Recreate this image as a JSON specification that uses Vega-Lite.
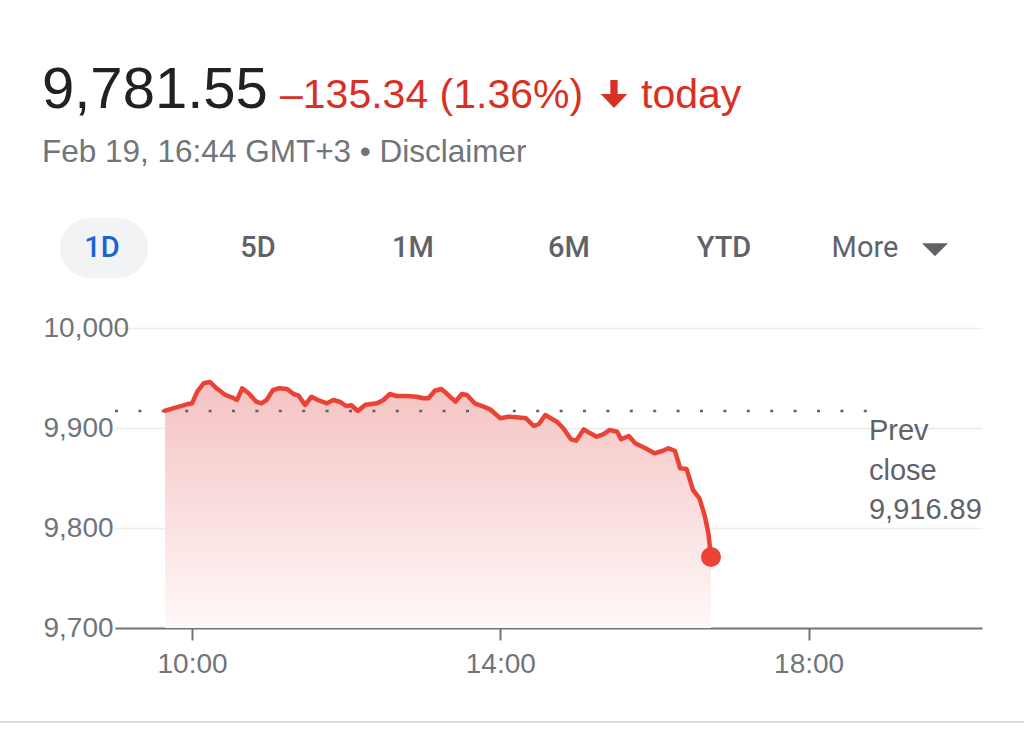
{
  "$schema": "https://vega.github.io/schema/vega-lite/v6.json",
  "width": 867,
  "height": 300,
  "autosize": {"type": "none"},
  "padding": {"left": 115, "top": 328, "right": 42, "bottom": 118},
  "background": "#ffffff",
  "config": {"view": {"stroke": null}, "font": "Liberation Sans"},
  "datasets": {
    "price": [
      {"t": "2024-02-19T09:39:00", "v": 9917.3},
      {"t": "2024-02-19T09:56:00", "v": 9923.7},
      {"t": "2024-02-19T10:00:00", "v": 9924.7},
      {"t": "2024-02-19T10:04:00", "v": 9936.3},
      {"t": "2024-02-19T10:09:00", "v": 9944.7},
      {"t": "2024-02-19T10:14:00", "v": 9946.0},
      {"t": "2024-02-19T10:19:00", "v": 9939.7},
      {"t": "2024-02-19T10:26:00", "v": 9933.0},
      {"t": "2024-02-19T10:31:00", "v": 9930.7},
      {"t": "2024-02-19T10:35:00", "v": 9928.0},
      {"t": "2024-02-19T10:39:00", "v": 9939.7},
      {"t": "2024-02-19T10:44:00", "v": 9934.7},
      {"t": "2024-02-19T10:50:00", "v": 9926.3},
      {"t": "2024-02-19T10:54:00", "v": 9924.7},
      {"t": "2024-02-19T10:58:00", "v": 9928.0},
      {"t": "2024-02-19T11:03:00", "v": 9938.0},
      {"t": "2024-02-19T11:08:00", "v": 9939.7},
      {"t": "2024-02-19T11:14:00", "v": 9939.0},
      {"t": "2024-02-19T11:19:00", "v": 9934.0},
      {"t": "2024-02-19T11:23:00", "v": 9932.3},
      {"t": "2024-02-19T11:28:00", "v": 9923.0},
      {"t": "2024-02-19T11:33:00", "v": 9931.3},
      {"t": "2024-02-19T11:38:00", "v": 9928.0},
      {"t": "2024-02-19T11:45:00", "v": 9924.7},
      {"t": "2024-02-19T11:50:00", "v": 9928.0},
      {"t": "2024-02-19T11:55:00", "v": 9926.3},
      {"t": "2024-02-19T12:00:00", "v": 9922.0},
      {"t": "2024-02-19T12:04:00", "v": 9922.7},
      {"t": "2024-02-19T12:09:00", "v": 9917.0},
      {"t": "2024-02-19T12:15:00", "v": 9923.3},
      {"t": "2024-02-19T12:24:00", "v": 9924.7},
      {"t": "2024-02-19T12:29:00", "v": 9928.0},
      {"t": "2024-02-19T12:34:00", "v": 9934.0},
      {"t": "2024-02-19T12:39:00", "v": 9932.0},
      {"t": "2024-02-19T12:47:00", "v": 9932.0},
      {"t": "2024-02-19T12:55:00", "v": 9931.3},
      {"t": "2024-02-19T13:00:00", "v": 9929.7},
      {"t": "2024-02-19T13:04:00", "v": 9929.7},
      {"t": "2024-02-19T13:09:00", "v": 9937.3},
      {"t": "2024-02-19T13:14:00", "v": 9939.0},
      {"t": "2024-02-19T13:18:00", "v": 9934.7},
      {"t": "2024-02-19T13:25:00", "v": 9926.3},
      {"t": "2024-02-19T13:30:00", "v": 9934.0},
      {"t": "2024-02-19T13:34:00", "v": 9933.0},
      {"t": "2024-02-19T13:40:00", "v": 9924.7},
      {"t": "2024-02-19T13:47:00", "v": 9921.3},
      {"t": "2024-02-19T13:52:00", "v": 9918.7},
      {"t": "2024-02-19T14:00:00", "v": 9909.7},
      {"t": "2024-02-19T14:06:00", "v": 9911.3},
      {"t": "2024-02-19T14:13:00", "v": 9910.7},
      {"t": "2024-02-19T14:20:00", "v": 9909.7},
      {"t": "2024-02-19T14:26:00", "v": 9902.0},
      {"t": "2024-02-19T14:30:00", "v": 9904.0},
      {"t": "2024-02-19T14:35:00", "v": 9913.0},
      {"t": "2024-02-19T14:44:00", "v": 9906.3},
      {"t": "2024-02-19T14:49:00", "v": 9899.7},
      {"t": "2024-02-19T14:55:00", "v": 9888.7},
      {"t": "2024-02-19T14:59:00", "v": 9887.3},
      {"t": "2024-02-19T15:05:00", "v": 9898.7},
      {"t": "2024-02-19T15:10:00", "v": 9894.7},
      {"t": "2024-02-19T15:15:00", "v": 9891.3},
      {"t": "2024-02-19T15:20:00", "v": 9893.7},
      {"t": "2024-02-19T15:25:00", "v": 9898.0},
      {"t": "2024-02-19T15:31:00", "v": 9896.3},
      {"t": "2024-02-19T15:34:00", "v": 9888.7},
      {"t": "2024-02-19T15:40:00", "v": 9892.0},
      {"t": "2024-02-19T15:45:00", "v": 9884.7},
      {"t": "2024-02-19T15:53:00", "v": 9879.7},
      {"t": "2024-02-19T16:00:00", "v": 9874.7},
      {"t": "2024-02-19T16:06:00", "v": 9877.0},
      {"t": "2024-02-19T16:11:00", "v": 9879.7},
      {"t": "2024-02-19T16:16:00", "v": 9877.0},
      {"t": "2024-02-19T16:20:00", "v": 9859.7},
      {"t": "2024-02-19T16:25:00", "v": 9859.0},
      {"t": "2024-02-19T16:30:00", "v": 9838.0},
      {"t": "2024-02-19T16:35:00", "v": 9829.7},
      {"t": "2024-02-19T16:39:00", "v": 9813.0},
      {"t": "2024-02-19T16:42:00", "v": 9794.7},
      {"t": "2024-02-19T16:44:00", "v": 9771.0}
    ],
    "prev": [{"prev": 9916.89, "label": "Prev close 9,916.89"}]
  },
  "layer": [
    {
      "data": {"name": "price"},
      "mark": {"type": "area", "color": {"gradient": "linear", "x1": 0, "y1": 0, "x2": 0, "y2": 1, "stops": [{"offset": 0, "color": "#f5c2c2"}, {"offset": 1, "color": "#fff8f8"}]}},
      "encoding": {
        "x": {"field": "t", "type": "temporal",
          "scale": {"domain": [{"year": 2024, "month": 2, "date": 19, "hours": 9}, {"year": 2024, "month": 2, "date": 19, "hours": 20, "minutes": 15}], "nice": false},
          "axis": {"values": [{"year": 2024, "month": 2, "date": 19, "hours": 10}, {"year": 2024, "month": 2, "date": 19, "hours": 14}, {"year": 2024, "month": 2, "date": 19, "hours": 18}],
            "format": "%H:%M", "title": null, "grid": false, "labelFont": "Liberation Sans", "labelFontSize": 28, "labelColor": "#70757a",
            "domainColor": "#70757a", "domainWidth": 2, "tickColor": "#70757a", "tickWidth": 2, "tickSize": 12, "labelPadding": 10}},
        "y": {"field": "v", "type": "quantitative",
          "scale": {"domain": [9700, 10000], "nice": false, "zero": false},
          "axis": {"values": [9700, 9800, 9900, 10000], "format": ",.0f", "title": null, "domain": false, "ticks": false, "tickSize": 0,
            "labelAlign": "left", "labelBaseline": "middle", "labelPadding": 72, "labelFont": "Liberation Sans", "labelFontSize": 28, "labelColor": "#70757a",
            "grid": true, "gridColor": "#ececec", "gridWidth": 1.5}},
        "y2": {"datum": 9700}
      }
    },
    {
      "data": {"name": "prev"},
      "mark": {"type": "rule", "color": "#5f6368", "strokeWidth": 2.5, "strokeDash": [3, 20.4]},
      "encoding": {
        "x": {"datum": {"year": 2024, "month": 2, "date": 19, "hours": 9}, "type": "temporal"},
        "x2": {"datum": {"year": 2024, "month": 2, "date": 19, "hours": 18, "minutes": 46}},
        "y": {"field": "prev", "type": "quantitative"}
      }
    },
    {
      "data": {"name": "prev"},
      "mark": {"type": "text", "align": "left", "baseline": "alphabetic", "dy": 29, "lineBreak": " ", "lineHeight": 39.5, "font": "Liberation Sans", "fontSize": 29, "color": "#5f6368"},
      "encoding": {
        "x": {"datum": {"year": 2024, "month": 2, "date": 19, "hours": 18, "minutes": 47}, "type": "temporal"},
        "y": {"field": "prev", "type": "quantitative"},
        "text": {"field": "label"}
      }
    },
    {
      "data": {"name": "price"},
      "mark": {"type": "line", "color": "#ea4335", "strokeWidth": 4.5, "strokeJoin": "round", "strokeCap": "round"},
      "encoding": {
        "x": {"field": "t", "type": "temporal"},
        "y": {"field": "v", "type": "quantitative"}
      }
    },
    {
      "data": {"name": "price"},
      "transform": [
        {"window": [{"op": "row_number", "as": "r"}], "sort": [{"field": "t", "order": "descending"}]},
        {"filter": "datum.r == 1"}
      ],
      "mark": {"type": "point", "filled": true, "color": "#ea4335", "opacity": 1, "size": 400},
      "encoding": {
        "x": {"field": "t", "type": "temporal"},
        "y": {"field": "v", "type": "quantitative"}
      }
    },
    {
      "data": {"values": [{"label": "9,781.55"}]},
      "mark": {"type": "text", "align": "left", "baseline": "alphabetic", "font": "Liberation Sans", "fontSize": 58, "color": "#202124"},
      "encoding": {"x": {"value": -73}, "y": {"value": -220}, "text": {"field": "label"}}
    },
    {
      "data": {"values": [{"label": "–135.34 (1.36%)"}]},
      "mark": {"type": "text", "align": "left", "baseline": "alphabetic", "font": "Liberation Sans", "fontSize": 41, "color": "#d93025"},
      "encoding": {"x": {"value": 165}, "y": {"value": -220}, "text": {"field": "label"}}
    },
    {
      "data": {"values": [{"direction": "down"}]},
      "mark": {"type": "point", "filled": true, "opacity": 1, "color": "#d93025", "size": 784, "shape": "M-0.26,-1L0.26,-1L0.26,0L0.95,0L0,1L-0.95,0L-0.26,0Z"},
      "encoding": {"x": {"value": 499}, "y": {"value": -234}}
    },
    {
      "data": {"values": [{"label": "today"}]},
      "mark": {"type": "text", "align": "left", "baseline": "alphabetic", "font": "Liberation Sans", "fontSize": 41, "color": "#d93025"},
      "encoding": {"x": {"value": 526}, "y": {"value": -220}, "text": {"field": "label"}}
    },
    {
      "data": {"values": [{"label": "Feb 19, 16:44 GMT+3 • Disclaimer"}]},
      "mark": {"type": "text", "align": "left", "baseline": "alphabetic", "font": "Liberation Sans", "fontSize": 31.5, "color": "#70757a"},
      "encoding": {"x": {"value": -73}, "y": {"value": -166}, "text": {"field": "label"}}
    },
    {
      "data": {"values": [{"tab": "1D"}]},
      "mark": {"type": "rect", "color": "#f1f3f4", "cornerRadius": 30},
      "encoding": {"x": {"value": -55}, "x2": {"value": 33}, "y": {"value": -110}, "y2": {"value": -50}}
    },
    {
      "data": {"values": [{"tab": "1D"}]},
      "mark": {"type": "text", "align": "center", "baseline": "middle", "font": "Roboto", "fontWeight": 500, "fontSize": 29, "color": "#1a62d6"},
      "encoding": {"x": {"value": -13}, "y": {"value": -80}, "text": {"field": "tab"}}
    },
    {
      "data": {"values": [{"tab": "5D"}]},
      "mark": {"type": "text", "align": "center", "baseline": "middle", "font": "Roboto", "fontWeight": 500, "fontSize": 29, "color": "#5f6368"},
      "encoding": {"x": {"value": 143}, "y": {"value": -80}, "text": {"field": "tab"}}
    },
    {
      "data": {"values": [{"tab": "1M"}]},
      "mark": {"type": "text", "align": "center", "baseline": "middle", "font": "Roboto", "fontWeight": 500, "fontSize": 29, "color": "#5f6368"},
      "encoding": {"x": {"value": 298}, "y": {"value": -80}, "text": {"field": "tab"}}
    },
    {
      "data": {"values": [{"tab": "6M"}]},
      "mark": {"type": "text", "align": "center", "baseline": "middle", "font": "Roboto", "fontWeight": 500, "fontSize": 29, "color": "#5f6368"},
      "encoding": {"x": {"value": 454}, "y": {"value": -80}, "text": {"field": "tab"}}
    },
    {
      "data": {"values": [{"tab": "YTD"}]},
      "mark": {"type": "text", "align": "center", "baseline": "middle", "font": "Roboto", "fontWeight": 500, "fontSize": 29, "color": "#5f6368"},
      "encoding": {"x": {"value": 609}, "y": {"value": -80}, "text": {"field": "tab"}}
    },
    {
      "data": {"values": [{"tab": "More"}]},
      "mark": {"type": "text", "align": "center", "baseline": "middle", "font": "Roboto", "fontSize": 29, "color": "#5f6368"},
      "encoding": {"x": {"value": 750}, "y": {"value": -80}, "text": {"field": "tab"}}
    },
    {
      "data": {"values": [{"tab": "More"}]},
      "mark": {"type": "point", "filled": true, "opacity": 1, "color": "#5f6368", "size": 676, "shape": "M-1,-0.45L1,-0.45L0,0.55Z"},
      "encoding": {"x": {"value": 820}, "y": {"value": -79}}
    },
    {
      "data": {"values": [{"divider": "bottom"}]},
      "mark": {"type": "rule", "color": "#dadce0", "strokeWidth": 2},
      "encoding": {"x": {"value": -115}, "x2": {"value": 909}, "y": {"value": 394}}
    }
  ]
}
